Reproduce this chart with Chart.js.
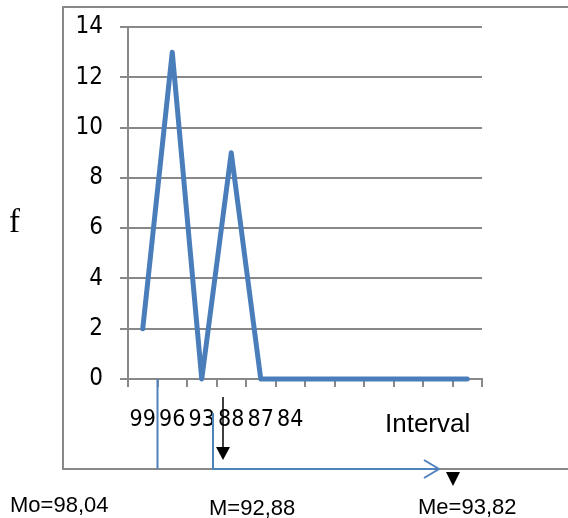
<!DOCTYPE html>
<html>
<head>
<meta charset="utf-8">
<script src="https://cdn.jsdelivr.net/npm/chart.js@4.4.1/dist/chart.umd.min.js"></script>
<style>
  body { margin: 0; background: #fff; }
  #freqChart { display: block; }
</style>
</head>
<body>
<canvas id="freqChart" width="568" height="518"></canvas>
<script>
// categories (only the first six carry a label in the picture)
const intervals = ['99', '96', '93', '88', '87', '84', '', '', '', '', '', ''];
// frequency per category
const freq = [2, 13, 0, 9, 0, 0, 0, 0, 0, 0, 0, 0];
// y tick range
const yMin = 0;
const yMax = 14;
const yStep = 2;

const narrowFont = '"Liberation Sans Narrow", "DejaVu Sans Condensed", Arial, sans-serif';
const gray = '#888888';
const blue = '#4f81bd';

// extra drawing: outer box, Mo / M / Me markers and texts
const extras = {
    id: 'extras',
    afterDraw(chart) {
        const ctx = chart.ctx;
        const area = chart.chartArea;
        const x = chart.scales.x;
        ctx.save();

        // outer gray frame (right side runs off the canvas)
        ctx.strokeStyle = gray;
        ctx.lineWidth = 2;
        ctx.beginPath();
        ctx.moveTo(575, 7);
        ctx.lineTo(63, 7);
        ctx.lineTo(63, 469);
        ctx.lineTo(575, 469);
        ctx.stroke();

        // blue marker lines
        ctx.strokeStyle = blue;
        ctx.lineWidth = 2;
        const moX = x.getPixelForValue(0.5);
        ctx.beginPath();
        ctx.moveTo(moX, area.bottom);
        ctx.lineTo(moX, 469);
        ctx.stroke();

        ctx.beginPath();
        ctx.moveTo(213, 413);
        ctx.lineTo(213, 469);
        ctx.lineTo(439, 469);
        ctx.stroke();
        ctx.beginPath();
        ctx.moveTo(424, 460);
        ctx.lineTo(439, 469);
        ctx.lineTo(424, 478);
        ctx.stroke();

        // black arrow
        ctx.strokeStyle = '#000';
        ctx.fillStyle = '#000';
        ctx.lineWidth = 1.5;
        ctx.beginPath();
        ctx.moveTo(223, 397);
        ctx.lineTo(223, 450);
        ctx.stroke();
        ctx.beginPath();
        ctx.moveTo(216, 447);
        ctx.lineTo(230, 447);
        ctx.lineTo(223, 460);
        ctx.closePath();
        ctx.fill();

        // black triangle over Me
        ctx.beginPath();
        ctx.moveTo(446, 472);
        ctx.lineTo(460, 472);
        ctx.lineTo(453, 486);
        ctx.closePath();
        ctx.fill();

        // texts
        ctx.textBaseline = 'alphabetic';
        ctx.textAlign = 'left';
        ctx.font = '22px "Liberation Sans", Arial, sans-serif';
        ctx.fillText('Mo=98,04', 10, 512);
        ctx.fillText('M=92,88', 209, 515);
        ctx.fillText('Me=93,82', 418, 514);

        ctx.font = '26px "Liberation Sans", Arial, sans-serif';
        ctx.fillText('Interval', 385, 432);

        ctx.font = '33px "Liberation Serif", "Times New Roman", serif';
        ctx.fillText('f', 9, 232);

        ctx.restore();
    }
};

const myChart = new Chart(document.getElementById('freqChart'), {
    type: 'line',
    data: {
        labels: intervals,
        datasets: [{
            data: freq,
            borderColor: '#4a7ebb',
            borderWidth: 5,
            borderCapStyle: 'round',
            borderJoinStyle: 'round',
            pointRadius: 0,
            tension: 0,
            fill: false,
            clip: false
        }]
    },
    options: {
        responsive: false,
        animation: false,
        layout: { padding: { left: 0, right: 86, top: 27, bottom: 0 } },
        plugins: {
            legend: { display: false },
            tooltip: { enabled: false }
        },
        scales: {
            x: {
                type: 'category',
                offset: true,
                grid: {
                    offset: true,
                    drawOnChartArea: false,
                    drawTicks: true,
                    tickLength: 8,
                    color: gray,
                    lineWidth: 2
                },
                border: { display: true, color: gray, width: 2 },
                ticks: {
                    autoSkip: false,
                    maxRotation: 0,
                    padding: 19,
                    color: '#000',
                    font: { family: narrowFont, size: 23 }
                },
                afterFit(s) { s.height = 139; }
            },
            y: {
                min: yMin,
                max: yMax,
                ticks: {
                    stepSize: yStep,
                    padding: 17,
                    color: '#000',
                    font: { family: narrowFont, size: 24 }
                },
                grid: {
                    color: gray,
                    lineWidth: 2,
                    tickLength: 8
                },
                border: { display: true, color: gray, width: 2 },
                afterFit(s) {
                    s.width = 128;
                    s.paddingTop = 0;
                }
            }
        }
    },
    plugins: [extras]
});
</script>
</body>
</html>
